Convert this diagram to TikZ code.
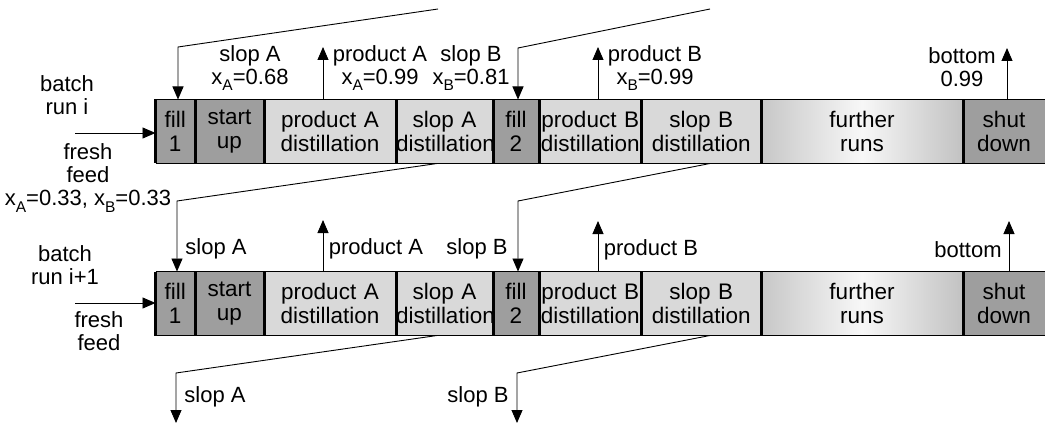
\documentclass[tikz,border=0pt]{standalone}
\usepackage{fontspec}
\setmainfont{Liberation Sans}
\usetikzlibrary{arrows.meta,calc}

% lowered subscript in text font
\newcommand{\xsub}[1]{\raisebox{-0.28em}{\fontsize{15.5}{15.5}\selectfont #1}}

\tikzset{
  lbl/.style={align=center, inner sep=0pt, font=\fontsize{22}{22.5}\selectfont},
  seg/.style={anchor=west, minimum width=#1, text width=#1, minimum height=64pt,
              inner sep=0pt, outer sep=0pt, align=center,
              font=\fontsize{22.5}{24}\selectfont},
  darkseg/.style={seg=#1, fill=black!38},
  lightseg/.style={seg=#1, fill=black!15},
  fadeseg/.style={seg=#1, left color=black!22, right color=black!24, middle color=black!3},
  edge/.style={line width=1pt},
  divider/.style={line width=3pt},
  flow/.style={line width=0.9pt, -{Triangle[length=13pt,width=11pt]}},
}

% one batch run: suffix, vertical centre
\newcommand{\runrow}[2]{%
  \node[darkseg=39.5pt]  (fill1#1)   at (155.5,#2)     {fill\\1};
  \node[darkseg=69pt]    (start#1)   at (fill1#1.east) {start\\up};
  \node[lightseg=132pt]  (prodA#1)   at (start#1.east) {product A\\distillation};
  \node[lightseg=97pt]   (slopA#1)   at (prodA#1.east) {slop A\\distillation};
  \node[darkseg=46pt]    (fill2#1)   at (slopA#1.east) {fill\\2};
  \node[lightseg=102.5pt](prodB#1)   at (fill2#1.east) {product B\\distillation};
  \node[lightseg=119.5pt](slopB#1)   at (prodB#1.east) {slop B\\distillation};
  \node[fadeseg=202pt]   (further#1) at (slopB#1.east) {further\\runs};
  \node[darkseg=82pt]    (shut#1)    at (further#1.east) {shut\\down};
  \draw[edge] (fill1#1.north west) -- (shut#1.north east);
  \draw[edge] (fill1#1.south west) -- (shut#1.south east);
  \foreach \b in {fill1,start,prodA,slopA,fill2,prodB,slopB,further,shut}
    \draw[divider] (\b#1.north west) -- (\b#1.south west);
}

\begin{document}
\begin{tikzpicture}[x=1pt,y=-1pt]
\useasboundingbox (0,0) rectangle (1045,425);

% ---------------- the two batch runs ----------------
\runrow{a}{131.5}
\runrow{b}{303.5}

% ---------------- batch run i ----------------
\node[lbl] (runi)   at (67,95)  {batch\\run i};
\node[lbl] (feedi)  at (88,178) {fresh\\feed\\[1pt]x\xsub{A}=0.33, x\xsub{B}=0.33};
\node[lbl] (lslA)   at (250,68) {slop A\\x\xsub{A}=0.68};
\node[lbl] (lprA)   at (380,68) {product A\\x\xsub{A}=0.99};
\node[lbl] (lslB)   at (471,68) {slop B\\x\xsub{B}=0.81};
\node[lbl] (lprB)   at (655,68) {product B\\x\xsub{B}=0.99};
\node[lbl] (lbot)   at (962,67) {bottom\\0.99};

\coordinate (srcF1) at (75,133);
\draw[flow] (srcF1) -- (srcF1 -| fill1a.west);

\coordinate (inA)    at (438,9);
\coordinate (bendA1) at (178,47);
\draw[flow] (inA) -- (bendA1) -- (bendA1 |- fill1a.north);
\coordinate (inB)    at (710,9);
\coordinate (bendB1) at (518,48);
\draw[flow] (inB) -- (bendB1) -- (bendB1 |- fill2a.north);

\coordinate (tipPA1) at (323,47);
\draw[flow] (tipPA1 |- prodAa.north) -- (tipPA1);
\coordinate (tipPB1) at (598,47);
\draw[flow] (tipPB1 |- prodBa.north) -- (tipPB1);
\coordinate (tipBt1) at (1007,48);
\draw[flow] (tipBt1 |- shuta.north) -- (tipBt1);

% slops passed on to the next run
\coordinate (bendA2) at (177,201);
\draw[flow] ($(slopAa.south west)!0.423!(slopAa.south east)$) -- (bendA2) -- (bendA2 |- fill1b.north);
\coordinate (bendB2) at (518,201);
\draw[flow] ($(slopBa.south west)!0.573!(slopBa.south east)$) -- (bendB2) -- (bendB2 |- fill2b.north);

% ---------------- batch run i+1 ----------------
\node[lbl] (runii)  at (65,265)  {batch\\run i+1};
\node[lbl] (feedii) at (99,331)  {fresh\\feed};
\node[lbl] (mslA)   at (216,249) {slop A};
\node[lbl] (mprA)   at (376,249) {product A};
\node[lbl] (mslB)   at (477,249) {slop B};
\node[lbl] (mprB)   at (651,250) {product B};
\node[lbl] (mbot)   at (968,250) {bottom};
\node[lbl] (oslA)   at (215,397) {slop A};
\node[lbl] (oslB)   at (478,397) {slop B};

\coordinate (srcF2) at (75,303);
\draw[flow] (srcF2) -- (srcF2 -| fill1b.west);

\coordinate (tipPA2) at (323,220);
\draw[flow] (tipPA2 |- prodAb.north) -- (tipPA2);
\coordinate (tipPB2) at (598,221);
\draw[flow] (tipPB2 |- prodBb.north) -- (tipPB2);
\coordinate (tipBt2) at (1009,221);
\draw[flow] (tipBt2 |- shutb.north) -- (tipBt2);

\coordinate (bendA3) at (176,373);
\coordinate (outA)   at (176,423);
\draw[flow] ($(slopAb.south west)!0.423!(slopAb.south east)$) -- (bendA3) -- (outA);
\coordinate (bendB3) at (517,373);
\coordinate (outB)   at (517,423);
\draw[flow] ($(slopBb.south west)!0.573!(slopBb.south east)$) -- (bendB3) -- (outB);
\end{tikzpicture}
\end{document}
